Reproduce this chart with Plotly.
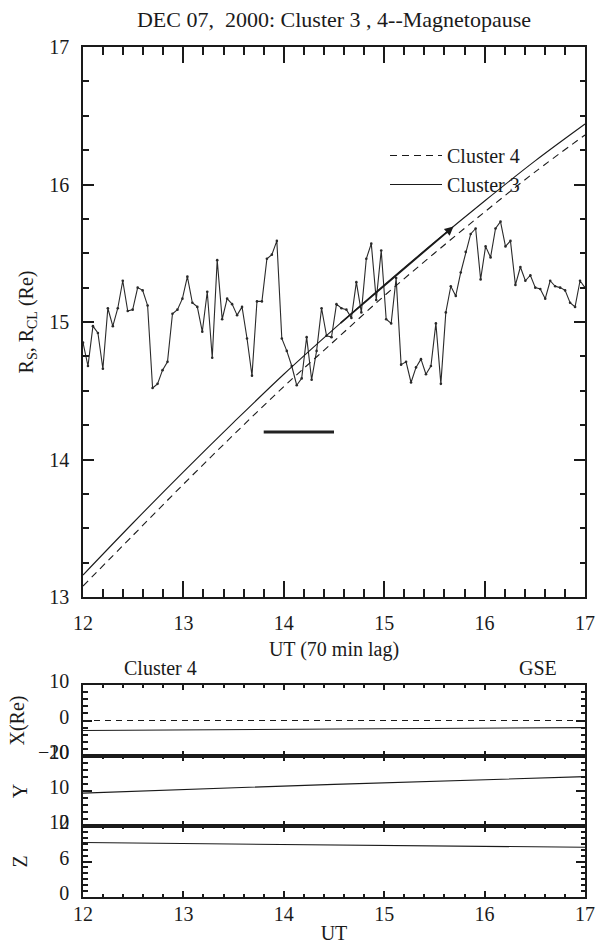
import numpy as np
import plotly.graph_objects as go

# Magnetopause standoff distance R_S (upstream-driven, 70 min lag), ~3 min cadence
rs_values = [
    14.85, 14.68, 14.97, 14.92, 14.66, 15.10, 14.97, 15.10, 15.30, 15.08,
    15.09, 15.25, 15.23, 15.12, 14.52, 14.55, 14.65, 14.71, 15.06, 15.09,
    15.17, 15.33, 15.14, 15.11, 14.93, 15.22, 14.74, 15.45, 15.02, 15.17,
    15.13, 15.05, 15.11, 14.88,
    14.61, 15.15, 15.15, 15.46, 15.49, 15.59, 14.88, 14.79, 14.68, 14.54,
    14.59, 14.89, 14.58, 14.79, 15.10, 14.90, 14.89, 15.13, 15.10, 15.09,
    15.03, 15.29, 15.07, 15.46, 15.57, 15.16, 15.52, 15.02, 14.99, 15.32,
    14.69, 14.71,
    14.56, 14.67, 14.73, 14.62, 14.68, 14.99, 14.55, 15.07, 15.26, 15.19,
    15.36, 15.51, 15.64, 15.68, 15.31, 15.55, 15.47, 15.68, 15.73, 15.55,
    15.59, 15.27, 15.40, 15.30, 15.34, 15.25, 15.24, 15.17, 15.30, 15.26,
    15.25, 15.23, 15.14, 15.11, 15.30, 15.25,
]
rs_ut = np.linspace(12.0, 17.0, len(rs_values))

# Radial distance of the spacecraft, R_CL
orbit_ut = [12.0, 12.5, 13.0, 13.5, 14.0, 14.5, 15.0, 15.5, 16.0, 16.5, 17.0]
rcl_c3 = [13.16, 13.54, 13.91, 14.27, 14.62, 14.95, 15.27, 15.58, 15.88, 16.17, 16.44]
rcl_c4 = [13.08, 13.45, 13.82, 14.18, 14.53, 14.86, 15.19, 15.50, 15.80, 16.09, 16.36]

# Crossing interval bar and motion arrow
bar_ut = [13.8, 14.5]
bar_r = 14.2
arrow_ut = [14.55, 15.69]

# Cluster 4 GSE position
gse_ut = [12.0, 14.5, 17.0]
gse_x = [-2.8, -2.35, -2.0]
gse_y = [9.4, 11.9, 14.1]
gse_z = [9.2, 8.8, 8.4]
ref_ut = [12.0, 17.0]
ref_x = [0.0, 0.0]

FONT = "Liberation Serif"
INK = "#1a1a1a"
W, H = 597, 947
L, R, T, B = 83, 12, 47, 50
PH = H - T - B
UT_RANGE = [12, 17]
TW = 1.6  # tick stroke width


def py(px):
    """pixel row -> paper y"""
    return (H - B - px) / PH


def tfont(size=20):
    return dict(family=FONT, size=size, color=INK)


def axis(**kw):
    base = dict(showgrid=False, zeroline=False, showline=True, linecolor=INK,
                linewidth=1.5, mirror="ticks", ticks="inside", tickcolor=INK,
                tickwidth=TW, tickfont=tfont(), automargin=False)
    base.update(kw)
    return base


def minor_axis(**kw):
    # secondary axis carrying only the short (minor) inward ticks
    base = dict(showgrid=False, zeroline=False, showline=False, showticklabels=False,
                mirror="ticks", ticks="inside", tickcolor=INK, tickwidth=TW,
                automargin=False)
    base.update(kw)
    return base


fig = go.Figure()

# Main panel
fig.add_trace(go.Scatter(
    x=rs_ut, y=rs_values, mode="lines+markers",
    line=dict(color="#2a2a2a", width=1.1), marker=dict(size=2.6, color="#2a2a2a"),
    showlegend=False, xaxis="x", yaxis="y"))
fig.add_trace(go.Scatter(
    x=orbit_ut, y=rcl_c4, mode="lines", name="Cluster 4",
    line=dict(color=INK, width=1.1, dash="7px,5px", shape="spline"),
    legendgroup="c4", xaxis="x", yaxis="y"))
fig.add_trace(go.Scatter(
    x=orbit_ut, y=rcl_c3, mode="lines", name="Cluster 3",
    line=dict(color=INK, width=1.1, shape="spline"),
    legendgroup="c3", xaxis="x", yaxis="y"))
fig.add_trace(go.Scatter(
    x=bar_ut, y=[bar_r, bar_r], mode="lines",
    line=dict(color="#222", width=3), showlegend=False, xaxis="x", yaxis="y"))

r_at = lambda t: float(np.interp(t, orbit_ut, rcl_c3))
fig.add_annotation(
    x=arrow_ut[1], y=r_at(arrow_ut[1]), ax=arrow_ut[0], ay=r_at(arrow_ut[0]),
    xref="x", yref="y", axref="x", ayref="y", text="", showarrow=True,
    arrowhead=2, arrowsize=1.1, arrowwidth=1.6, arrowcolor=INK)

# Bottom panels
fig.add_trace(go.Scatter(x=ref_ut, y=ref_x, mode="lines",
                         line=dict(color=INK, width=1.1, dash="6px,5px"),
                         showlegend=False, xaxis="x2", yaxis="y2"))
fig.add_trace(go.Scatter(x=gse_ut, y=gse_x, mode="lines",
                         line=dict(color=INK, width=1.1),
                         showlegend=False, xaxis="x2", yaxis="y2"))
fig.add_trace(go.Scatter(x=gse_ut, y=gse_y, mode="lines",
                         line=dict(color=INK, width=1.1),
                         showlegend=False, xaxis="x3", yaxis="y3"))
fig.add_trace(go.Scatter(x=gse_ut, y=gse_z, mode="lines",
                         line=dict(color=INK, width=1.1),
                         showlegend=False, xaxis="x4", yaxis="y4"))

# Minor-tick settings per panel: (y range, x minor step/len, y minor step/len)
panels = [
    dict(n=1, yrange=[13, 17], xminor=(0.2, 8), yminor=(0.25, 5.5)),
    dict(n=2, yrange=[-10, 10], xminor=(0.2, 2.5), yminor=(2, 4.5)),
    dict(n=3, yrange=[0, 20], xminor=(0.2, 2.5), yminor=(2, 4.5)),
    dict(n=4, yrange=[0, 12], xminor=(0.2, 3), yminor=(1, 4.5)),
]
minor_axes = {}
k = 5
for p in panels:
    n = p["n"]
    xb = "x" if n == 1 else f"x{n}"
    yb = "y" if n == 1 else f"y{n}"
    xd, xl = p["xminor"]
    yd, yl = p["yminor"]
    minor_axes[f"xaxis{k}"] = minor_axis(overlaying=xb, anchor=yb, side="bottom",
                                         range=UT_RANGE, tick0=12, dtick=xd, ticklen=xl)
    minor_axes[f"yaxis{k}"] = minor_axis(overlaying=yb, anchor=f"x{k}", side="left",
                                         range=p["yrange"], tick0=p["yrange"][0],
                                         dtick=yd, ticklen=yl)
    fig.add_trace(go.Scatter(x=[], y=[], xaxis=f"x{k}", yaxis=f"y{k}",
                             showlegend=False, hoverinfo="skip"))
    k += 1

main_dom = [py(597), 1.0]
x_dom = [py(756), py(685)]
y_dom = [py(826), py(756)]
z_dom = [0.0, py(826)]

fig.update_layout(
    width=W, height=H, margin=dict(l=L, r=R, t=T, b=B, autoexpand=False),
    paper_bgcolor="white", plot_bgcolor="white",
    font=tfont(),
    title=dict(text="DEC 07,&nbsp; 2000: Cluster 3 , 4--Magnetopause",
               x=0.5, xref="paper", y=1 - 19 / H, yanchor="middle", font=tfont(22)),
    xaxis=axis(domain=[0, 1], anchor="y", range=UT_RANGE, dtick=1, tick0=12,
               ticklen=16, ticklabelstandoff=7,
               title=dict(text="UT (70 min lag)", standoff=9, font=tfont())),
    yaxis=axis(domain=main_dom, anchor="x", range=[13, 17], dtick=1, tick0=13,
               ticklen=11, ticklabelstandoff=8,
               title=dict(text="R<sub>S</sub>, R<sub>CL</sub> (Re)", standoff=10, font=tfont())),
    xaxis2=axis(domain=[0, 1], anchor="y2", range=UT_RANGE, dtick=1, tick0=12,
                ticklen=5, showticklabels=False),
    yaxis2=axis(domain=x_dom, anchor="x2", range=[-10, 10], tickvals=[-10, 0, 10],
                ticklen=9, ticklabelstandoff=8, ticklabelshift=-4,
                title=dict(text="X(Re)", standoff=8, font=tfont())),
    xaxis3=axis(domain=[0, 1], anchor="y3", range=UT_RANGE, dtick=1, tick0=12,
                ticklen=5, showticklabels=False),
    yaxis3=axis(domain=y_dom, anchor="x3", range=[0, 20], tickvals=[0, 10, 20],
                ticklen=9, ticklabelstandoff=8, ticklabelshift=-4,
                title=dict(text="Y", standoff=16, font=tfont())),
    xaxis4=axis(domain=[0, 1], anchor="y4", range=UT_RANGE, dtick=1, tick0=12,
                ticklen=6, ticklabelstandoff=-2,
                title=dict(text="UT", standoff=2, font=tfont())),
    yaxis4=axis(domain=z_dom, anchor="x4", range=[0, 12], tickvals=[0, 6, 12],
                ticklen=9, ticklabelstandoff=8, ticklabelshift=-4,
                title=dict(text="Z", standoff=16, font=tfont())),
    legend=dict(x=(385 - L) / (W - L - R), y=py(136), xanchor="left", yanchor="top",
                bgcolor="rgba(0,0,0,0)", borderwidth=0, itemwidth=52,
                traceorder="grouped", tracegroupgap=0, font=tfont()),
    **minor_axes,
)

fig.add_annotation(text="Cluster 4", xref="paper", yref="paper",
                   x=(160 - L) / (W - L - R), y=py(668), showarrow=False,
                   xanchor="center", yanchor="middle", font=tfont())
fig.add_annotation(text="GSE", xref="paper", yref="paper",
                   x=(538 - L) / (W - L - R), y=py(668), showarrow=False,
                   xanchor="center", yanchor="middle", font=tfont())

fig.write_html("out.html")
